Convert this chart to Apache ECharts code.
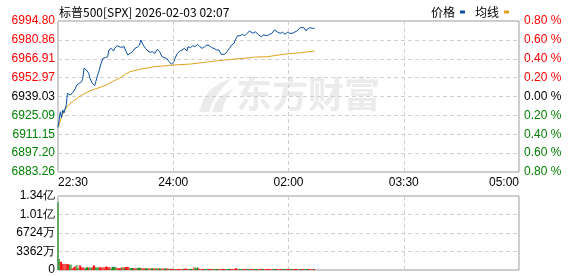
<!DOCTYPE html>
<html><head><meta charset="utf-8">
<script src="https://cdn.jsdelivr.net/npm/echarts@6/dist/echarts.min.js"></script>
<style>html,body{margin:0;padding:0;background:#fff}#c{width:578px;height:276px}</style>
</head><body><div id="c"></div>
<script>
const titleText = '标普500[SPX] 2026-02-03 02:07';
const legendNames = ['价格', '均线'];
const prevClose = 6939.03;
const priceStep = 13.9425;
const leftLabels = ['6883.26','6897.20','6911.15','6925.09','6939.03','6952.97','6966.91','6980.86','6994.80'];
const rightLabels = ['0.80 %','0.60 %','0.40 %','0.20 %','0.00 %','0.20 %','0.40 %','0.60 %','0.80 %'];
const timeLabels = ['22:30','24:00','02:00','03:30','05:00'];
const volLabels = ['0','3362万','6724万','1.01亿','1.34亿'];
const volStep = 3362; // 万
const totalMinutes = 390;

// price line (minute offset from 22:30, price)
const priceMin = [0,2,3,4,5,7,8,9,10,12,14,16,18,20,21,22,24,26,27,29,31,32,34,35,36,38,40,42,43,45,47,48,50,53,56,57,59,61,63,65,67,69,70,72,74,76,78,80,82,84,86,88,90,92,94,96,98,99,101,103,105,107,109,110,112,114,116,118,120,122,124,126,128,130,132,134,136,138,139,141,143,145,147,149,150,152,154,156,158,160,162,163,165,167,169,170,172,174,177,179,181,183,184,186,188,190,192,194,196,198,200,202,203,205,206,208,210,211,213,215,217];
const priceVal = [6916.3,6927.8,6923.2,6929.1,6926.8,6932.8,6941.4,6942.6,6940.1,6941.4,6943.8,6947.5,6948.8,6950.0,6952.5,6959.9,6958.6,6956.2,6952.5,6948.8,6947.0,6950.0,6956.2,6958.6,6962.3,6967.2,6967.7,6968.4,6973.4,6974.6,6972.6,6974.6,6976.6,6975.4,6975.8,6973.4,6969.7,6970.9,6972.1,6974.6,6975.4,6977.1,6980.8,6977.1,6974.6,6972.6,6971.7,6972.1,6970.9,6973.9,6972.1,6968.4,6967.7,6967.2,6964.7,6962.8,6964.7,6967.2,6970.9,6972.6,6973.4,6974.6,6972.6,6975.8,6975.1,6976.6,6975.8,6977.6,6975.8,6974.6,6975.8,6977.1,6976.6,6975.1,6974.6,6973.4,6973.4,6970.2,6969.2,6970.2,6972.1,6974.6,6977.1,6978.3,6980.8,6983.9,6983.9,6985.0,6983.9,6985.7,6987.4,6986.5,6985.7,6986.9,6985.0,6984.5,6983.2,6984.5,6983.9,6985.0,6985.7,6988.2,6987.4,6986.5,6985.7,6986.5,6985.0,6986.5,6985.7,6985.7,6986.5,6987.4,6988.2,6989.9,6991.3,6989.9,6987.4,6988.9,6989.9,6989.4,6989.4];

// average line
const avgMin = [0,1,3,5,8,12,17,22,27,33,41,46,52,57,61,69,81,92,98,112,124,136,147,157,167,177,191,205,217];
const avgVal = [6916.3,6918.0,6924.0,6928.0,6932.0,6935.0,6938.3,6941.0,6943.2,6945.0,6947.5,6950.0,6952.5,6955.4,6957.4,6959.1,6961.0,6961.8,6962.3,6963.0,6964.3,6965.5,6966.5,6967.2,6968.2,6968.4,6970.2,6971.4,6972.6];

// volume per minute (万), direction u = up (red), d = down (green)
const volume = [
12300,2000,1500,1500,1100,1100,1150,1100,1050,1100,
950,1000,300,450,600,620,900,350,850,800,
480,500,450,300,480,500,450,520,470,490,
850,820,480,500,470,480,500,460,490,500,
560,700,540,560,520,300,550,560,540,550,
350,360,340,370,500,480,490,550,560,540,
550,380,360,350,320,340,330,420,410,430,
400,300,310,290,330,340,320,300,280,320,
300,260,310,330,280,250,300,290,270,260,
280,250,300,260,240,230,200,210,190,200,
190,200,180,210,200,190,220,200,300,250,
200,190,210,200,190,450,480,300,470,300,
200,190,210,180,200,190,200,210,180,190,
200,190,210,200,180,190,200,190,210,180,
200,190,180,200,190,210,200,190,180,200,
330,300,200,190,210,180,200,190,200,210,
190,200,180,200,190,210,200,190,180,200,
200,190,210,200,180,190,200,210,190,200,
190,200,180,200,210,190,200,190,180,200,
200,190,210,200,190,180,200,210,190,200,
190,200,180,210,200,190,200,180,190,200,
200,190,210,200,180,200,190,200];
const volDir = [
'dduuuuuuuu','dduuuudduu','uuuddduddu','uuddduuuuu','uuuuuddddd',
'uuuududuuu','uddduuuddd','duuuddduud','duuddudduu','dduuduuuud',
'uuuuuuduuu','uddduudddu','uuuuddduuu','uudddduuuu','uudddduuuu',
'uuudddduuu','dduuuudddu','uuudduuuuu','uuddduuuuu','ddduuuuddu',
'uuuudduuud','dduuuudu'].join('');

const chart = echarts.init(document.getElementById('c'), null, {renderer: 'canvas'});
const font = '"Liberation Sans", Arial, sans-serif';
const cjk = '"Noto Sans CJK SC", sans-serif';
const redC = '#ff0000', greenC = '#008000';
const wm = '#ebebeb';

function levelIdx(v) { return Math.round(v / priceStep) + 4; }

const option = {
  animation: false,
  backgroundColor: '#fff',
  title: {
    text: titleText, left: 54, top: 1,
    textStyle: {fontSize: 12, fontWeight: 'normal', color: '#000', fontFamily: cjk}
  },
  legend: {
    data: legendNames, right: 64, top: 1, align: 'right', icon: 'rect',
    itemWidth: 5, itemHeight: 3, itemGap: 10,
    textStyle: {fontSize: 12, color: '#000', fontFamily: cjk}
  },
  graphic: [
    {
      type: 'text', left: 236, top: 76, z: -10, silent: true,
      style: {text: '东方财富', font: 'bold 36px "Noto Sans CJK SC"', fill: wm}
    },
    {
      type: 'polygon', z: -10, silent: true,
      shape: {points: [[199,112],[203,100],[210,90],[220,83],[232,78],[224,86],[216,96],[212,104],[209,112]]},
      style: {fill: wm}
    },
    {
      type: 'polygon', z: -10, silent: true,
      shape: {points: [[212,112],[215,103],[221,96],[234,88],[228,96],[224,104],[222,112]]},
      style: {fill: wm}
    }
  ],
  grid: [
    {left: 58, right: 59, top: 21, height: 151, show: true, borderColor: '#999', borderWidth: 1},
    {left: 58, right: 59, top: 196, height: 74, show: true, borderColor: '#999', borderWidth: 1}
  ],
  xAxis: [
    {
      type: 'value', gridIndex: 0, min: 0, max: totalMinutes, interval: totalMinutes / 4,
      axisLine: {show: false}, axisTick: {show: false},
      splitLine: {show: true, lineStyle: {color: '#d0d0d0', type: [4, 3]}},
      axisLabel: {
        margin: 5, fontSize: 12, color: '#000', fontFamily: font,
        alignMinLabel: 'left', alignMaxLabel: 'right',
        formatter: v => timeLabels[Math.round(v / (totalMinutes / 4))]
      }
    },
    {
      type: 'value', gridIndex: 1, min: 0, max: totalMinutes, interval: totalMinutes / 4,
      axisLine: {show: false}, axisTick: {show: false}, axisLabel: {show: false},
      splitLine: {show: true, lineStyle: {color: '#d0d0d0', type: [4, 3]}}
    }
  ],
  yAxis: [
    {
      type: 'value', gridIndex: 0, min: -4 * priceStep, max: 4 * priceStep, interval: priceStep,
      axisLine: {show: false}, axisTick: {show: false},
      splitLine: {show: true, lineStyle: {color: '#d0d0d0', type: [4, 3]}},
      axisLabel: {
        margin: 3, fontSize: 12, fontFamily: font,
        formatter: v => leftLabels[levelIdx(v)],
        color: v => { const i = levelIdx(v); return i > 4 ? redC : (i < 4 ? greenC : '#000'); }
      }
    },
    {
      type: 'value', gridIndex: 0, position: 'right', min: -4 * priceStep, max: 4 * priceStep, interval: priceStep,
      axisLine: {show: false}, axisTick: {show: false}, splitLine: {show: false},
      axisLabel: {
        margin: 5, fontSize: 12, fontFamily: font,
        formatter: v => rightLabels[levelIdx(v)],
        color: v => { const i = levelIdx(v); return i > 4 ? redC : (i < 4 ? greenC : '#000'); }
      }
    },
    {
      type: 'value', gridIndex: 1, min: 0, max: 4 * volStep, interval: volStep,
      axisLine: {show: false}, axisTick: {show: false},
      splitLine: {show: true, lineStyle: {color: '#d0d0d0', type: [4, 3]}},
      axisLabel: {
        margin: 3, fontSize: 12, color: '#000', fontFamily: font,
        formatter: v => volLabels[Math.round(v / volStep)]
      }
    }
  ],
  series: [
    {
      name: '均线', type: 'line', xAxisIndex: 0, yAxisIndex: 0, symbol: 'none', z: 3,
      color: '#e0a21c', lineStyle: {width: 1, color: '#e0a21c'},
      data: avgMin.map((m, i) => [m, avgVal[i] - prevClose])
    },
    {
      name: '价格', type: 'line', xAxisIndex: 0, yAxisIndex: 0, symbol: 'none', z: 4,
      color: '#0b4ea2', lineStyle: {width: 1, color: '#0b4ea2'},
      data: priceMin.map((m, i) => [m, priceVal[i] - prevClose])
    },
    {
      type: 'bar', xAxisIndex: 1, yAxisIndex: 2, barWidth: 1, z: 3,
      data: volume.map((v, i) => ({value: [i, v], itemStyle: {color: volDir[i] === 'd' ? greenC : redC}}))
    }
  ]
};
chart.setOption(option);
</script>
</body></html>
